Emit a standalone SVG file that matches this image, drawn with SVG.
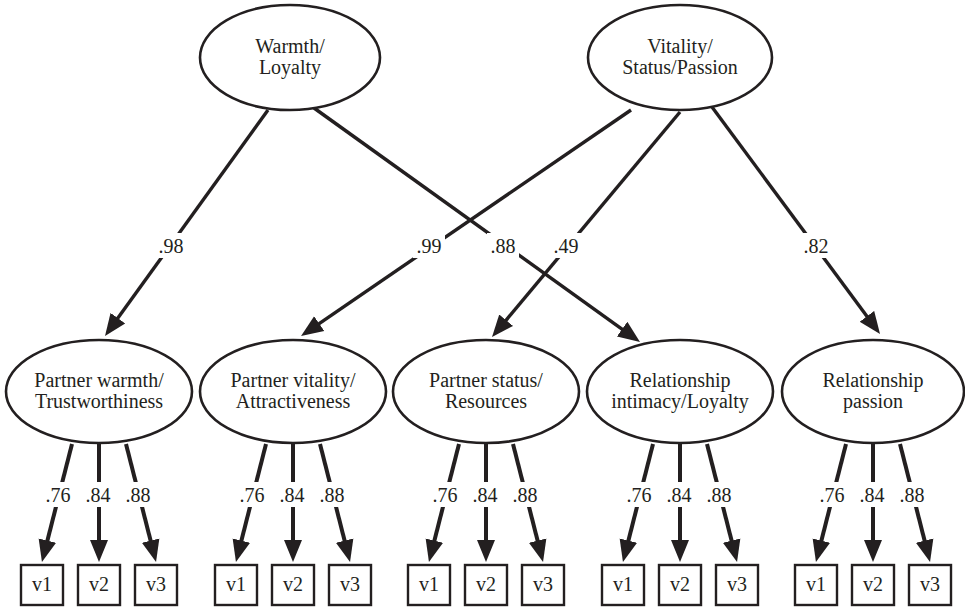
<svg xmlns="http://www.w3.org/2000/svg" width="965" height="608" viewBox="0 0 965 608">
  <style>
    .bg { fill: #ffffff; }
    .node ellipse { fill: #ffffff; stroke: #231f20; stroke-width: 2.6; }
    .node rect { fill: #ffffff; stroke: #231f20; stroke-width: 2.4; }
    text { font-family: 'Liberation Serif', 'Times New Roman', serif; font-size: 20px; fill: #231f20; text-anchor: middle; }
    .edge { stroke: #231f20; fill: none; stroke-linecap: butt; }
    .top { stroke-width: 3.4; }
    .ind { stroke-width: 4; }
    .lblbg { fill: #ffffff; }
  </style>
  <defs>
    <marker id="arrow" markerUnits="userSpaceOnUse" viewBox="0 -10 24 20" refX="8" refY="0" markerWidth="24" markerHeight="20" orient="auto">
      <path d="M0,-9 L22,0 L0,9 Z" fill="#231f20"/>
    </marker>
    <!-- three loadings from a factor to its indicators, positioned per factor -->
    <g id="ind-set">
      <line class="edge ind" x1="-27" y1="444" x2="-53.6" y2="548.4" marker-end="url(#arrow)"/>
      <line class="edge ind" x1="0" y1="444" x2="0" y2="548" marker-end="url(#arrow)"/>
      <line class="edge ind" x1="27" y1="444" x2="53.6" y2="548.4" marker-end="url(#arrow)"/>
      <rect class="lblbg" x="-56" y="482" width="30" height="25"/>
      <rect class="lblbg" x="-16" y="482" width="30" height="25"/>
      <rect class="lblbg" x="24" y="482" width="30" height="25"/>
      <text x="-41" y="502">.76</text>
      <text x="-1" y="502">.84</text>
      <text x="39" y="502">.88</text>
    </g>
  </defs>

  <rect class="bg" x="0" y="0" width="965" height="608"/>

  <!-- structural paths between the latent factors -->
  <g id="connectors">
    <line class="edge top" x1="268" y1="110" x2="113.2" y2="324.6" marker-end="url(#arrow)"/>
    <line class="edge top" x1="314" y1="108" x2="628.6" y2="333.8" marker-end="url(#arrow)"/>
    <line class="edge top" x1="631" y1="110" x2="312.6" y2="328.1" marker-end="url(#arrow)"/>
    <line class="edge top" x1="680" y1="112" x2="501" y2="326.3" marker-end="url(#arrow)"/>
    <line class="edge top" x1="712" y1="107" x2="871.7" y2="322.7" marker-end="url(#arrow)"/>
    <!-- path coefficients -->
    <rect class="lblbg" x="155" y="233" width="32" height="25"/>
    <text x="171" y="253">.98</text>
    <rect class="lblbg" x="413" y="233" width="32" height="25"/>
    <text x="429" y="253">.99</text>
    <rect class="lblbg" x="487" y="233" width="32" height="25"/>
    <text x="503" y="253">.88</text>
    <rect class="lblbg" x="550" y="233" width="32" height="25"/>
    <text x="566" y="253">.49</text>
    <rect class="lblbg" x="800" y="233" width="32" height="25"/>
    <text x="816" y="253">.82</text>
  </g>

  <!-- second-order factors -->
  <g id="warmth-loyalty" class="node">
    <ellipse cx="290" cy="57.5" rx="90" ry="52.5"/>
    <text x="290" y="53">Warmth/</text>
    <text x="290" y="74">Loyalty</text>
  </g>
  <g id="vitality-status-passion" class="node">
    <ellipse cx="680" cy="57.5" rx="92" ry="52.5"/>
    <text x="680" y="53">Vitality/</text>
    <text x="680" y="74">Status/Passion</text>
  </g>

  <!-- first-order factors -->
  <g id="partner-warmth" class="node">
    <ellipse cx="99" cy="391.5" rx="93" ry="51.5"/>
    <text x="99" y="387">Partner warmth/</text>
    <text x="99" y="408">Trustworthiness</text>
  </g>
  <g id="partner-vitality" class="node">
    <ellipse cx="293" cy="391.5" rx="93" ry="51.5"/>
    <text x="293" y="387">Partner vitality/</text>
    <text x="293" y="408">Attractiveness</text>
  </g>
  <g id="partner-status" class="node">
    <ellipse cx="486" cy="391.5" rx="93" ry="51.5"/>
    <text x="486" y="387">Partner status/</text>
    <text x="486" y="408">Resources</text>
  </g>
  <g id="relationship-intimacy" class="node">
    <ellipse cx="680" cy="391.5" rx="93" ry="51.5"/>
    <text x="680" y="387">Relationship</text>
    <text x="680" y="408">intimacy/Loyalty</text>
  </g>
  <g id="relationship-passion" class="node">
    <ellipse cx="873" cy="391.5" rx="91" ry="51.5"/>
    <text x="873" y="387">Relationship</text>
    <text x="873" y="408">passion</text>
  </g>

  <!-- indicator loadings -->
  <g id="loadings">
    <use href="#ind-set" x="99"/>
    <use href="#ind-set" x="293"/>
    <use href="#ind-set" x="486"/>
    <use href="#ind-set" x="680"/>
    <use href="#ind-set" x="873"/>
  </g>

  <!-- observed indicators -->
  <g id="pw-v1" class="node"><rect x="21" y="565" width="42" height="40"/><text x="42" y="591">v1</text></g>
  <g id="pw-v2" class="node"><rect x="78" y="565" width="42" height="40"/><text x="99" y="591">v2</text></g>
  <g id="pw-v3" class="node"><rect x="135" y="565" width="42" height="40"/><text x="156" y="591">v3</text></g>

  <g id="pv-v1" class="node"><rect x="215" y="565" width="42" height="40"/><text x="236" y="591">v1</text></g>
  <g id="pv-v2" class="node"><rect x="272" y="565" width="42" height="40"/><text x="293" y="591">v2</text></g>
  <g id="pv-v3" class="node"><rect x="329" y="565" width="42" height="40"/><text x="350" y="591">v3</text></g>

  <g id="ps-v1" class="node"><rect x="408" y="565" width="42" height="40"/><text x="429" y="591">v1</text></g>
  <g id="ps-v2" class="node"><rect x="465" y="565" width="42" height="40"/><text x="486" y="591">v2</text></g>
  <g id="ps-v3" class="node"><rect x="522" y="565" width="42" height="40"/><text x="543" y="591">v3</text></g>

  <g id="ri-v1" class="node"><rect x="602" y="565" width="42" height="40"/><text x="623" y="591">v1</text></g>
  <g id="ri-v2" class="node"><rect x="659" y="565" width="42" height="40"/><text x="680" y="591">v2</text></g>
  <g id="ri-v3" class="node"><rect x="716" y="565" width="42" height="40"/><text x="737" y="591">v3</text></g>

  <g id="rp-v1" class="node"><rect x="795" y="565" width="42" height="40"/><text x="816" y="591">v1</text></g>
  <g id="rp-v2" class="node"><rect x="852" y="565" width="42" height="40"/><text x="873" y="591">v2</text></g>
  <g id="rp-v3" class="node"><rect x="909" y="565" width="42" height="40"/><text x="930" y="591">v3</text></g>
</svg>
